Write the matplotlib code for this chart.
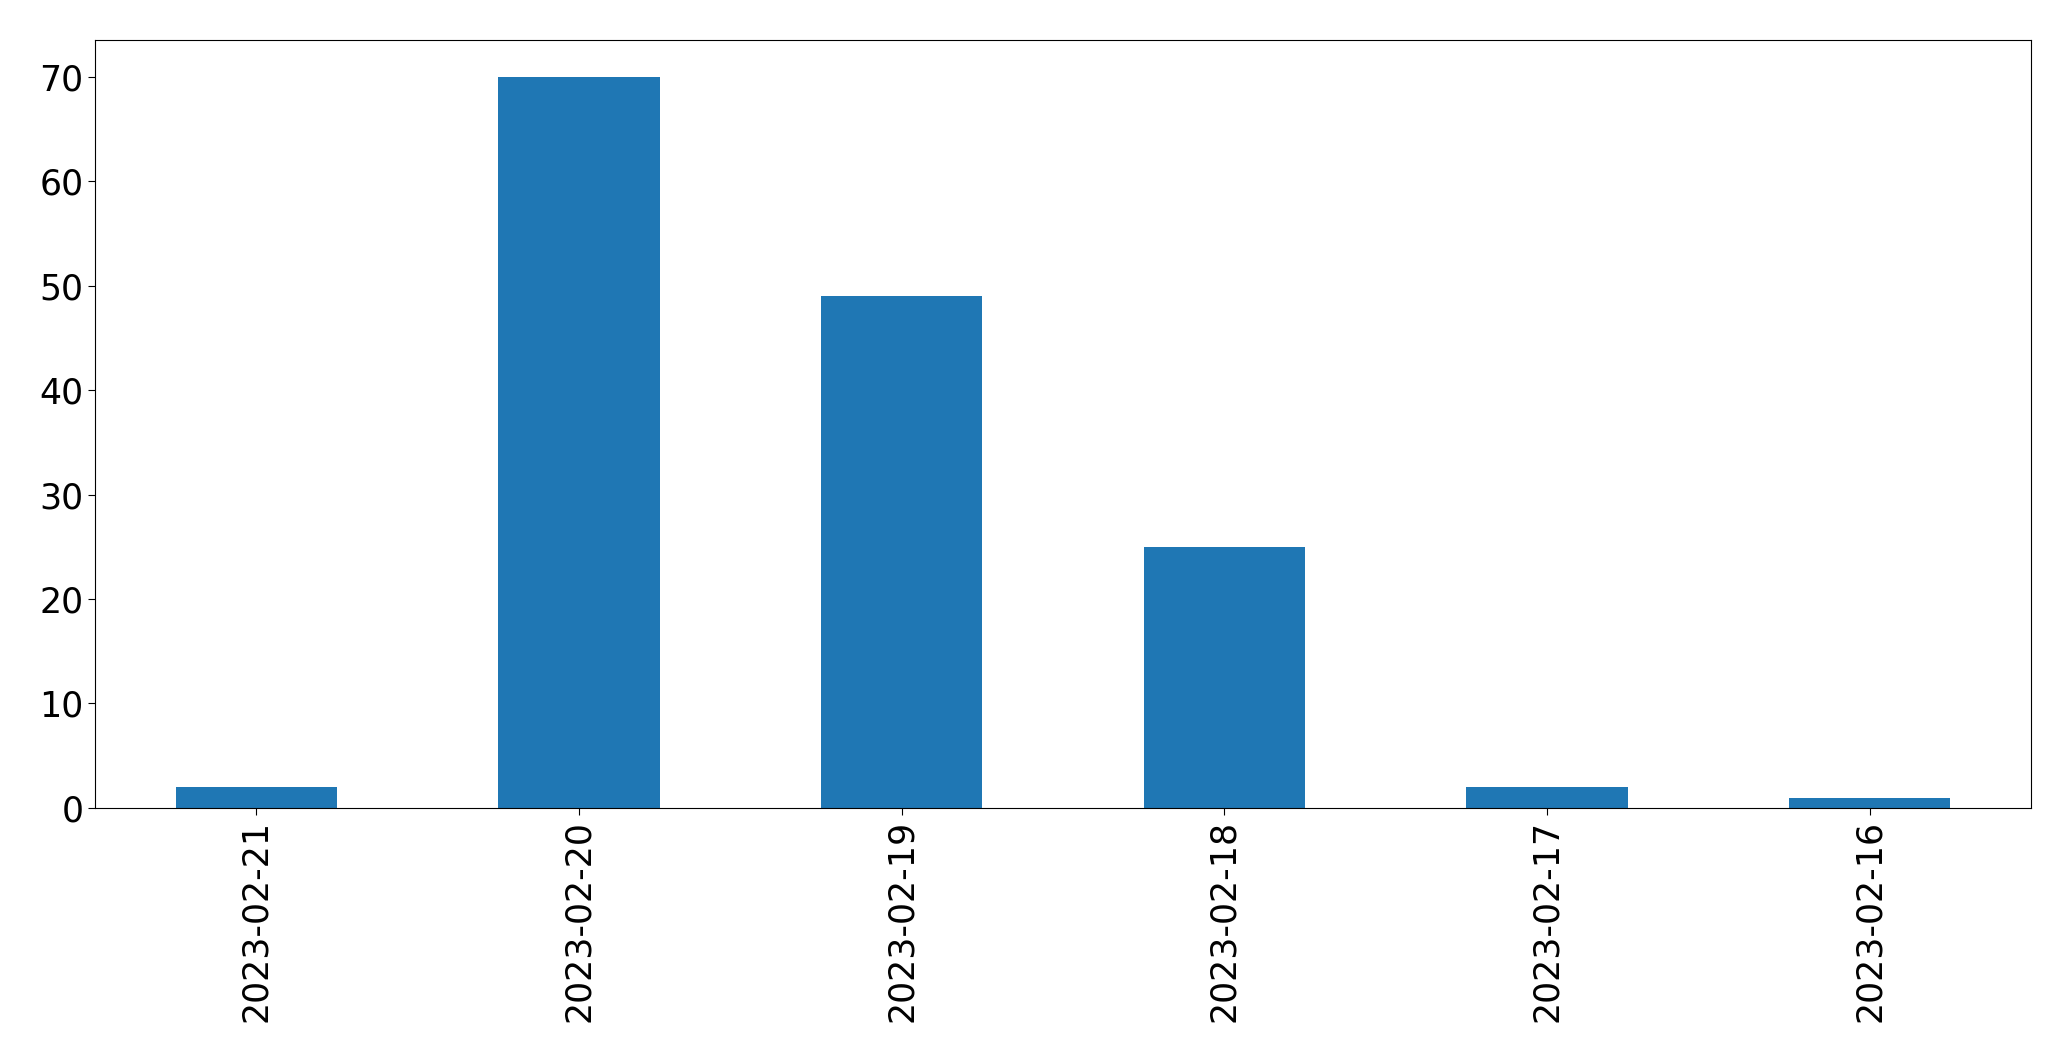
import matplotlib
matplotlib.use("Agg")
import matplotlib.pyplot as plt
import pandas as pd

# daily counts, newest first
dates = ["2023-02-21", "2023-02-20", "2023-02-19", "2023-02-18", "2023-02-17", "2023-02-16"]
counts = [2, 70, 49, 25, 2, 1]

series = pd.Series(counts, index=dates)

fig, ax = plt.subplots(figsize=(20.71, 10.61), dpi=100)
series.plot(kind="bar", ax=ax, color="#1f77b4", fontsize=25)
ax.tick_params(axis="both", labelsize=25, length=5)
fig.subplots_adjust(left=0.0459, right=0.9807, top=0.9623, bottom=0.2385)

plt.savefig("out.png", dpi=100)
